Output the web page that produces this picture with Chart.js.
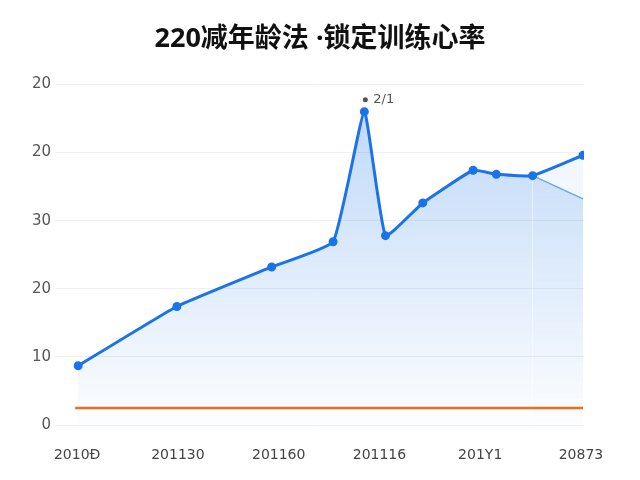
<!DOCTYPE html>
<html>
<head>
<meta charset="utf-8">
<script src="https://cdn.jsdelivr.net/npm/chart.js@4/dist/chart.umd.min.js"></script>
<style>
  body { margin: 0; background: #fff; }
  #wrap { width: 640px; height: 480px; }
</style>
</head>
<body>
<div id="wrap"><canvas id="myChart" width="640" height="480"></canvas></div>
<script>
// values
const xValues = [0.01, 0.99, 1.93, 2.54, 2.85, 3.06, 3.43, 3.93, 4.16, 4.52, 5.02];
const hrValues = [8.7, 17.4, 23.2, 26.9, 46.0, 27.8, 32.6, 37.4, 36.8, 36.6, 39.6];

const branchX = [4.52, 5.02];
const branchY = [36.6, 33.2];

const refLineX = [-0.02, 5.02];
const refLineY = [2.5, 2.5];

const xTickLabels = ["2010Ð", "201130", "201160", "201116", "201Y1", "20873"];
const yTickLabels = ["0", "10", "20", "30", "20", "20"];

const peakLabel = "2/1";
const peakIndex = 4;

const toPoints = (xs, ys) => xs.map((x, i) => ({ x, y: ys[i] }));

let chartRef = null;

const areaFill = (chart, alphaTop, alphaBottom) => {
  if (!chart || !chart.chartArea) return "rgba(30,120,230,0.15)";
  const { ctx, chartArea } = chart;
  const g = ctx.createLinearGradient(0, chartArea.top, 0, chartArea.bottom);
  g.addColorStop(0, `rgba(30,120,230,${alphaTop})`);
  g.addColorStop(1, `rgba(30,120,230,${alphaBottom})`);
  return g;
};

// small dot + text above the peak point
const peakNote = {
  id: "peakNote",
  afterDatasetsDraw(chart) {
    const pt = chart.getDatasetMeta(0).data[peakIndex];
    if (!pt) return;
    const ctx = chart.ctx;
    ctx.save();
    ctx.fillStyle = "#555";
    ctx.beginPath();
    ctx.arc(pt.x + 1, pt.y - 12, 2.5, 0, Math.PI * 2);
    ctx.fill();
    ctx.font = "13px 'DejaVu Sans', sans-serif";
    ctx.textBaseline = "middle";
    ctx.fillText(peakLabel, pt.x + 9, pt.y - 12);
    ctx.restore();
  }
};

const ctx = document.getElementById("myChart").getContext("2d");
chartRef = new Chart(ctx, {
  type: "line",
  data: {
    datasets: [
      {
        label: "心率",
        data: toPoints(xValues, hrValues),
        borderColor: "#1a73e8",
        borderWidth: 3,
        pointRadius: 3,
        pointBackgroundColor: "#1a73e8",
        pointBorderColor: "#1a73e8",
        tension: 0.12,
        fill: "origin",
        backgroundColor: (c) => areaFill(c.chart, 0.3, 0.01),
        segment: {
          // the last stretch above the branch is paler
          backgroundColor: (s) => s.p0DataIndex === xValues.length - 2
            ? areaFill(chartRef, 0.08, 0.0) : undefined
        },
        order: 1
      },
      {
        label: "分支",
        data: toPoints(branchX, branchY),
        borderColor: "rgba(80,150,230,0.8)",
        borderWidth: 1.5,
        pointRadius: 0,
        fill: "origin",
        backgroundColor: (c) => areaFill(c.chart, 0.24, 0.01),
        order: 2
      },
      {
        label: "参考",
        data: toPoints(refLineX, refLineY),
        borderColor: "#f26a1b",
        borderWidth: 2.5,
        pointRadius: 0,
        fill: false,
        order: 0
      }
    ]
  },
  options: {
    responsive: false,
    animation: false,
    plugins: {
      legend: { display: false },
      tooltip: { enabled: false },
      title: {
        display: true,
        text: "220减年龄法 ·锁定训练心率",
        color: "#111",
        font: { family: "'Noto Sans', 'Noto Sans CJK SC', sans-serif", size: 27, weight: "bold" },
        padding: { top: 23, bottom: 29 }
      }
    },
    scales: {
      x: {
        type: "linear",
        min: -0.22,
        max: 5.03,
        afterBuildTicks: (scale) => {
          scale.ticks = xTickLabels.map((_, i) => ({ value: i }));
        },
        afterFit: (scale) => { scale.height = 55; },
        grid: { display: false },
        border: { display: false },
        ticks: {
          padding: 14,
          color: "#444",
          font: { family: "'DejaVu Sans', sans-serif", size: 14 },
          maxRotation: 0,
          callback: (v) => xTickLabels[Math.round(v)]
        }
      },
      y: {
        min: 0,
        max: 50,
        afterFit: (scale) => { scale.width = 55; },
        grid: { color: "#f0f0f0", drawTicks: false },
        border: { display: false },
        ticks: {
          stepSize: 10,
          padding: 4,
          color: "#555",
          font: { family: "'DejaVu Sans', sans-serif", size: 15 },
          callback: (v) => yTickLabels[Math.round(v / 10)]
        }
      },
      // empty right axis, only keeps the margin so the title stays centred
      yRight: {
        position: "right",
        min: 0,
        max: 50,
        afterFit: (scale) => { scale.width = 56; },
        grid: { display: false },
        border: { display: false },
        ticks: { display: false }
      }
    }
  },
  plugins: [peakNote]
});
chartRef.update();
</script>
</body>
</html>
